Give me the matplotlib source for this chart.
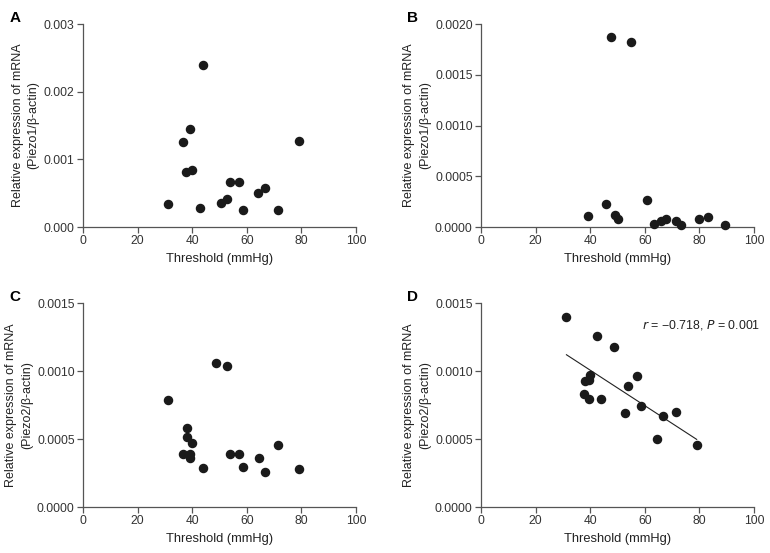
import numpy as np
import matplotlib
matplotlib.use("Agg")
import matplotlib.pyplot as plt

plt.rcParams['font.family'] = ['Liberation Sans', 'DejaVu Sans']

# panel A: Piezo1 (group 1)
a_x = [31.3, 44.0, 39.2, 36.7, 37.9, 40.1, 79.0, 42.7, 50.6, 52.7, 54.0, 57.3, 58.6, 64.1, 66.6, 71.4]
a_y = [0.000343, 0.00240, 0.00145, 0.00125, 0.00082, 0.00084, 0.00127, 0.00028, 0.00035,
       0.00042, 0.00067, 0.00066, 0.00025, 0.00050, 0.00057, 0.00025]

# panel B: Piezo1 (group 2)
b_x = [39.1, 45.8, 47.6, 54.9, 49.0, 50.0, 60.9, 63.3, 65.9, 67.6, 71.5, 73.2, 80.0, 83.3, 89.2]
b_y = [0.000111, 0.00023, 0.00187, 0.00182, 0.00012, 0.000075, 0.000266, 0.000033, 0.00006,
       0.00008, 0.000056, 0.000023, 0.000082, 0.000098, 0.000023]

# panel C: Piezo2 (group 1)
c_x = [31.3, 48.7, 52.7, 38.0, 38.0, 40.1, 36.7, 39.2, 39.2, 44.0, 54.0, 57.3, 58.6, 64.5, 66.6, 71.4, 79.0]
c_y = [0.000789, 0.001056, 0.001034, 0.000583, 0.000512, 0.000468, 0.000392, 0.000392, 0.000358,
       0.000284, 0.000392, 0.000392, 0.000294, 0.000363, 0.00026, 0.000453, 0.000282]

# panel D: Piezo2 (group 2)
d_x = [31.3, 42.5, 48.7, 40.1, 38.0, 39.5, 57.3, 54.0, 37.9, 39.4, 44.0, 58.7, 52.6, 66.6, 71.3, 64.5, 79.0]
d_y = [0.001397, 0.001257, 0.001174, 0.00097, 0.000926, 0.000931, 0.000966, 0.000887, 0.000831,
       0.000792, 0.000794, 0.00074, 0.000694, 0.000669, 0.000701, 0.000502, 0.000453]

fig = plt.figure(figsize=(7.7, 5.53), dpi=100)

W, H = 770, 553
def make_ax(left, top, right, bottom):
    return fig.add_axes([left / W, 1 - bottom / H, (right - left) / W, (bottom - top) / H])

ax_a = make_ax(83, 24, 356, 227)
ax_b = make_ax(481, 24, 754, 227)
ax_c = make_ax(83, 303, 356, 507)
ax_d = make_ax(481, 303, 754, 507)

panels = [
    (ax_a, a_x, a_y, [0, 0.001, 0.002, 0.003], '%.3f', 'Piezo1', 'A'),
    (ax_b, b_x, b_y, [0, 0.0005, 0.001, 0.0015, 0.002], '%.4f', 'Piezo1', 'B'),
    (ax_c, c_x, c_y, [0, 0.0005, 0.001, 0.0015], '%.4f', 'Piezo2', 'C'),
    (ax_d, d_x, d_y, [0, 0.0005, 0.001, 0.0015], '%.4f', 'Piezo2', 'D'),
]

axis_col = '#555555'
for ax, xs, ys, yt, fmt, gene, letter in panels:
    ax.scatter(xs, ys, s=34, color='#1a1a1a', zorder=3, clip_on=False)
    ax.set_xlim(0, 100)
    ax.set_ylim(0, yt[-1])
    ax.set_xticks([0, 20, 40, 60, 80, 100])
    ax.set_yticks(yt)
    ax.set_yticklabels([fmt % v for v in yt])
    for s in ['top', 'right']:
        ax.spines[s].set_visible(False)
    for s in ['left', 'bottom']:
        ax.spines[s].set_color(axis_col)
        ax.spines[s].set_linewidth(0.9)
    ax.tick_params(direction='out', length=4, width=0.9, color=axis_col,
                   labelsize=8.7, labelcolor='#333333', pad=2)
    ax.set_xlabel('Threshold (mmHg)', fontsize=9.3, color='#222222', labelpad=4)
    ax.set_ylabel('Relative expression of mRNA\n(%s/\u03b2-actin)' % gene,
                  fontsize=9, color='#222222', labelpad=3, linespacing=1.4)
    ax.text(-0.27, 1.03, letter, transform=ax.transAxes, fontsize=11,
            fontweight='bold', ha='left', va='center')

# regression line in D
k, b = np.polyfit(d_x, d_y, 1)
lx = np.array([min(d_x), max(d_x)])
ax_d.plot(lx, k * lx + b, color='#222222', lw=0.8, zorder=2)
ax_d.text(1.022, 0.892, '$r$ = \u22120.718, $P$ = 0.001',
          transform=ax_d.transAxes, fontsize=8.9, ha='right', va='center', color='#222222')

fig.savefig('out.png', dpi=100)
